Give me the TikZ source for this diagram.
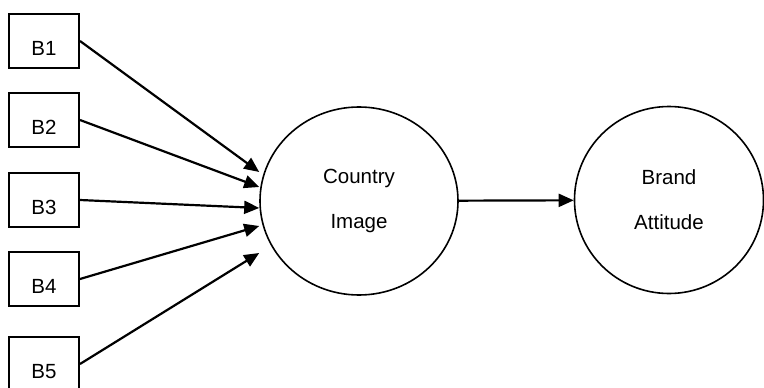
\documentclass[tikz,border=0pt]{standalone}
\usepackage{fontspec}
\setmainfont{Liberation Sans}
\usetikzlibrary{arrows.meta,shapes.geometric}

\begin{document}
\begin{tikzpicture}[x=1pt,y=-1pt,
	font=\fontsize{20.5}{24}\selectfont,
	item/.style={draw,line width=2pt,inner sep=0pt,minimum width=70pt,minimum height=54pt,text height=29pt,text depth=0pt},
	latent/.style={draw,ellipse,line width=1.6pt,inner sep=0pt,align=center},
	link/.style={line width=2.2pt,-{Triangle[length=15pt,width=13pt]}}]
	\useasboundingbox (0,0) rectangle (764,388);
	\node[item] (b-1) at (44,41) {B1};
	\node[item] (b-2) at (44,120) {B2};
	\node[item] (b-3) at (44,200) {B3};
	\node[item] (b-4) at (44,279) {B4};
	\node[item] (b-5) at (44,364) {B5};
	\node[latent,minimum width=198pt,minimum height=188pt] (country-image) at (359,201) {Country\\[21pt]Image};
	\node[latent,minimum width=189pt,minimum height=187pt] (brand-attitude) at (669,200) {Brand\\[21pt]Attitude};
	\draw[link] (b-1.east) -- ([yshift=29pt]country-image.west);
	\draw[link] (b-2.east) -- ([yshift=14pt]country-image.west);
	\draw[link] (b-3.east) -- ([yshift=-7pt]country-image.west);
	\draw[link] (b-4.east) -- ([yshift=-25pt]country-image.west);
	\draw[link] (b-5.east) -- ([yshift=-52pt]country-image.west);
	\draw[link] (country-image) -- (brand-attitude);
\end{tikzpicture}
\end{document}
